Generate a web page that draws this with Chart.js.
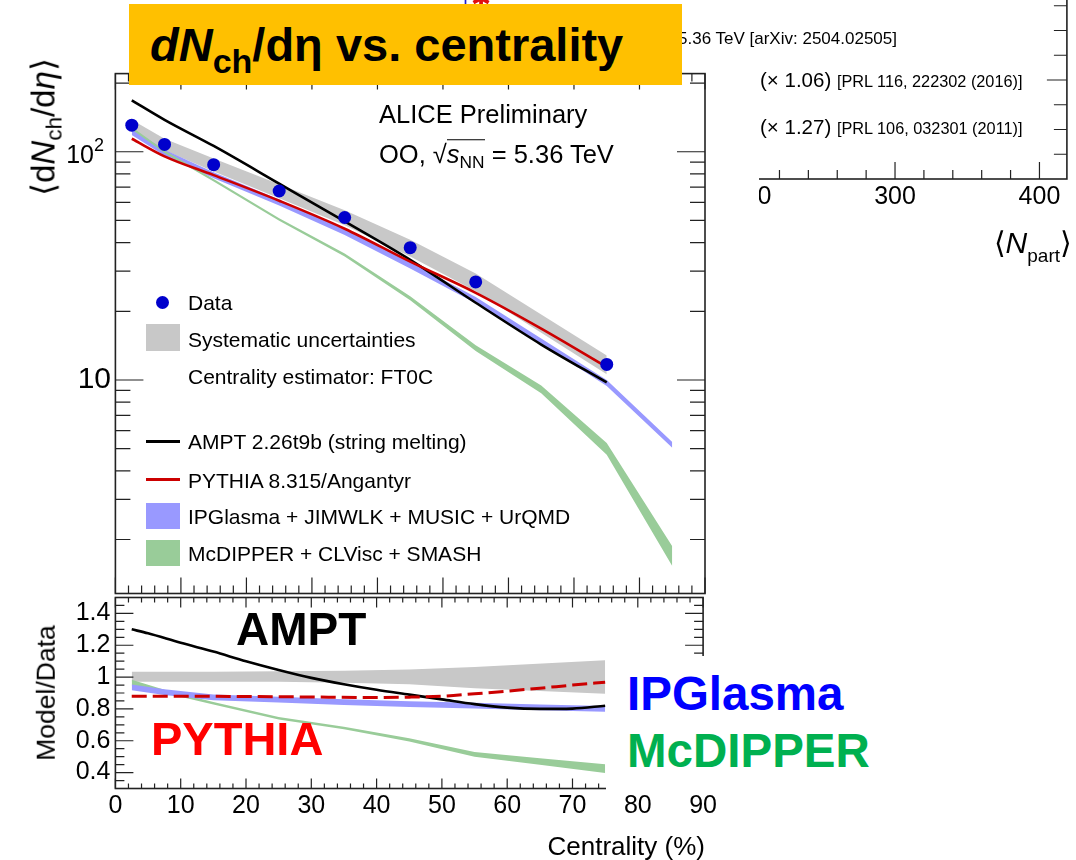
<!DOCTYPE html>
<html>
<head>
<meta charset="utf-8">
<title>dNch/deta vs centrality</title>
<script src="https://cdn.jsdelivr.net/npm/chart.js@4.4.1/dist/chart.umd.min.js"></script>
<style>
  html, body { margin: 0; padding: 0; background: #fff; }
  #page { position: relative; width: 1076px; height: 860px; overflow: hidden; font-family: 'Liberation Sans', Arial, Helvetica, sans-serif; color: #000; }
  #page canvas { position: absolute; }
  .t { position: absolute; white-space: nowrap; line-height: 1; }
  .mid { transform: translateY(-50%); }
  .rot { transform: translate(-50%, -50%) rotate(-90deg); }
  .big { font-weight: bold; }
  .key { position: absolute; }
  sub { font-size: 0.68em; vertical-align: -0.3em; line-height: 0; }
</style>
</head>
<body>
<div id="page">
  <canvas id="upper" width="720" height="600" style="left:0;top:0"></canvas>
  <canvas id="lower" width="720" height="300" style="left:0;top:560px"></canvas>

  <!-- cropped neighbour panel (N_part) -->
  <div style="position:absolute;left:759px;top:0;width:317px;height:232px;overflow:hidden">
    <canvas id="npart" width="410" height="260" style="left:-79px;top:-30px"></canvas>
  </div>
  <div class="t" style="left:463px;top:-9px;font-size:18px;color:#1a1ad0">I</div>
  <div class="t" style="left:471px;top:-13px;font-size:24px;color:#e01010">✱</div>
  <div class="t mid" style="left:678px;top:38px;font-size:17px">5.36 TeV <span style="font-size:17px">[arXiv: 2504.02505]</span></div>
  <div class="t mid" style="left:760px;top:80px;font-size:20.5px">(× 1.06) <span style="font-size:16.3px">[PRL 116, 222302 (2016)]</span></div>
  <div class="t mid" style="left:760px;top:127px;font-size:20.5px">(× 1.27) <span style="font-size:16.3px">[PRL 106, 032301 (2011)]</span></div>
  <div class="t mid" style="right:4px;top:243px;font-size:30px">⟨<i>N</i><sub style="font-size:19px;vertical-align:-9px">part</sub>⟩</div>

  <!-- title banner -->
  <div style="position:absolute;left:129px;top:4px;width:553px;height:81px;background:#FFC000;z-index:5"></div>
  <div class="t big" style="left:150px;top:21px;font-size:47px;z-index:6"><i>dN</i><sub style="font-size:34px;vertical-align:-12px">ch</sub>/dη vs. centrality</div>

  <!-- labels inside the upper pad -->
  <div class="t mid" style="left:379px;top:115px;font-size:25.5px">ALICE Preliminary</div>
  <div class="t mid" style="left:379px;top:155px;font-size:25.5px">OO, √<span style="border-top:1.5px solid #000"><i>s</i><sub>NN</sub></span> = 5.36 TeV</div>

  <div class="t rot" style="left:43px;top:127px;font-size:33px">⟨d<i>N</i><sub>ch</sub>/d<i>η</i>⟩</div>
  <div class="t rot" style="left:46px;top:693px;font-size:26.5px">Model/Data</div>
  <div class="t mid" style="right:371px;top:846px;font-size:26px">Centrality (%)</div>

  <!-- legend -->
  <div class="key" style="left:155.5px;top:295.5px;width:13px;height:13px;border-radius:50%;background:#0000CC"></div>
  <div class="key" style="left:146px;top:324px;width:34px;height:27px;background:#C8C8C8"></div>
  <div class="key" style="left:146px;top:439.5px;width:34px;height:3px;background:#000"></div>
  <div class="key" style="left:146px;top:478px;width:34px;height:3px;background:#CC0000"></div>
  <div class="key" style="left:146px;top:503px;width:34px;height:26px;background:#9999FF"></div>
  <div class="key" style="left:146px;top:540px;width:34px;height:26px;background:#99CC99"></div>
  <div class="t mid" style="left:188px;top:302px;font-size:21px">Data</div>
  <div class="t mid" style="left:188px;top:339px;font-size:21px">Systematic uncertainties</div>
  <div class="t mid" style="left:188px;top:376px;font-size:21px">Centrality estimator: FT0C</div>
  <div class="t mid" style="left:188px;top:441px;font-size:21px">AMPT 2.26t9b (string melting)</div>
  <div class="t mid" style="left:188px;top:480px;font-size:21px">PYTHIA 8.315/Angantyr</div>
  <div class="t mid" style="left:188px;top:516px;font-size:21px">IPGlasma + JIMWLK + MUSIC + UrQMD</div>
  <div class="t mid" style="left:188px;top:553px;font-size:21px">McDIPPER + CLVisc + SMASH</div>

  <!-- annotations on the ratio pad -->
  <div style="position:absolute;left:606px;top:656px;width:470px;height:135px;background:#fff;z-index:2"></div>
  <div class="t big" style="left:236px;top:606px;font-size:46px;z-index:3">AMPT</div>
  <div class="t big" style="left:151px;top:715px;font-size:47px;color:#FF0000;z-index:3">PYTHIA</div>
  <div class="t big" style="left:627px;top:670px;font-size:47.5px;color:#0000FF;z-index:3">IPGlasma</div>
  <div class="t big" style="left:627px;top:727px;font-size:47.5px;color:#00B050;z-index:3">McDIPPER</div>
</div>

<script>
// ── values ──
const centrality  = [2.5, 7.5, 15, 25, 35, 45, 55, 75];
const dNdEta      = [130.7, 107.7, 87.8, 67.3, 51.5, 38.0, 26.9, 11.7];
const sysLow      = [123.5, 101.5, 82.0, 62.5, 47.6, 34.8, 24.5, 10.6];
const sysHigh     = [138.0, 114.0, 93.5, 72.0, 55.4, 41.2, 29.3, 12.8];

const curveCent   = [2.5, 7.5, 15, 25, 35, 45, 55, 65, 75];
const ampt        = [168, 138, 106, 72.5, 49.5, 33.6, 21.8, 14.3, 9.75];
const pythia      = [114, 95.5, 79, 61, 46, 33, 24.1, 16.8, 11.4];

const modelCent   = [2.5, 7.5, 15, 25, 35, 45, 55, 65, 75, 85];
const ipgLow      = [118.3, 96.0, 76.6, 58.2, 43.2, 30.8, 21.7, 14.4, 9.40, 5.05];
const ipgHigh     = [125.7, 102.0, 81.4, 61.8, 45.8, 32.8, 23.1, 15.2, 10.0, 5.35];
const mcdLow      = [125.3, 98.8, 74.1, 49.9, 34.8, 22.35, 13.4, 8.74, 4.70, 1.53];
const mcdHigh     = [128.3, 101.2, 75.9, 51.1, 35.8, 23.25, 14.2, 9.46, 5.30, 1.87];

// ratio pad
const ratioSysLow   = [0.970, 0.970, 0.970, 0.970, 0.965, 0.955, 0.930, 0.896];
const ratioSysHigh  = [1.033, 1.033, 1.034, 1.036, 1.040, 1.047, 1.063, 1.106];
const amptRatioCent = [2.5, 5, 10, 15, 20, 25, 30, 35, 40, 45, 50, 55, 60, 65, 70, 75];
const amptRatio     = [1.30, 1.275, 1.215, 1.16, 1.10, 1.045, 0.995, 0.955, 0.92, 0.89, 0.86, 0.83, 0.808, 0.80, 0.802, 0.82];
const pythiaRatioCent = [2.5, 10, 20, 30, 40, 45, 50, 55, 60, 65, 70, 75];
const pythiaRatio   = [0.88, 0.88, 0.878, 0.875, 0.872, 0.874, 0.88, 0.895, 0.912, 0.93, 0.95, 0.968];
const ratioCent     = [2.5, 7.5, 15, 25, 35, 45, 55, 65, 75];
const ipgRatioLow   = [0.917, 0.887, 0.854, 0.840, 0.824, 0.812, 0.802, 0.792, 0.782];
const ipgRatioHigh  = [0.953, 0.923, 0.890, 0.876, 0.860, 0.848, 0.838, 0.828, 0.818];
const mcdRatioLow   = [0.947, 0.900, 0.827, 0.734, 0.672, 0.595, 0.500, 0.450, 0.397];
const mcdRatioHigh  = [0.983, 0.920, 0.843, 0.750, 0.688, 0.615, 0.530, 0.490, 0.453];

// axes
const xTickValues     = [0, 10, 20, 30, 40, 50, 60, 70, 80, 90];
const ratioTickValues = [0.4, 0.6, 0.8, 1, 1.2, 1.4];
const logTickValues   = [10, 100];
const logTickExps     = [1, 2];
const npartTickValues = [200, 300, 400];

// ── style ──
const FONT = "'Liberation Sans', Arial, sans-serif";
const C = { data: '#0000CC', red: '#CC0000', grey: '#C8C8C8', blue: '#9999FF', green: '#99CC99' };
Chart.defaults.font.family = FONT;
Chart.defaults.color = '#000';

const steps = (from, to, step) => { const out = []; for (let v = from; v <= to + 1e-9; v += step) out.push(+v.toFixed(3)); return out; };
const logMinor = [1, 10, 100].flatMap(d => [2, 3, 4, 5, 6, 7, 8, 9].map(k => k * d)).filter(v => v > 1.16 && v < 220);

const pts = (xs, ys) => xs.map((x, i) => ({ x, y: ys[i] }));
const flat = { pointRadius: 0, pointHoverRadius: 0, tension: 0 };
const edge = (xs, ys, order) => ({ data: pts(xs, ys), borderWidth: 0, fill: false, order, ...flat });
const band = (xs, ys, target, color, order) => ({ data: pts(xs, ys), borderWidth: 0, backgroundColor: color, fill: target, order, ...flat });
const curve = (xs, ys, color, order, extra = {}) => ({ data: pts(xs, ys), borderColor: color, borderWidth: 2.6, cubicInterpolationMode: 'monotone', fill: false, order, ...flat, ...extra });

// ROOT-like frame with inward tick marks, drawn from the chart scales
function rootFrame(cfg) {
  return {
    id: 'rootFrame',
    afterDatasetsDraw(chart) {
      const { ctx, chartArea: a } = chart;
      const sx = chart.scales.x, sy = chart.scales.y;
      ctx.save();
      ctx.strokeStyle = '#222';
      ctx.lineWidth = 1.2;
      ctx.beginPath();
      for (const [vals, len] of cfg.xTicks) for (const v of vals) {
        const p = sx.getPixelForValue(v);
        if (cfg.sides.includes('b')) { ctx.moveTo(p, a.bottom); ctx.lineTo(p, a.bottom - len); }
        if (cfg.sides.includes('t')) { ctx.moveTo(p, a.top); ctx.lineTo(p, a.top + len); }
      }
      for (const [vals, len] of cfg.yTicks) for (const v of vals) {
        const p = sy.getPixelForValue(v);
        if (cfg.sides.includes('l')) { ctx.moveTo(a.left, p); ctx.lineTo(a.left + len, p); }
        if (cfg.sides.includes('r')) { ctx.moveTo(a.right, p); ctx.lineTo(a.right - len, p); }
      }
      ctx.stroke();
      ctx.lineWidth = 1.6;
      ctx.strokeRect(a.left, a.top, a.right - a.left, a.bottom - a.top);
      ctx.restore();
    }
  };
}

// "10" and "10^2" labels of the log axis
const logLabels = {
  id: 'logLabels',
  afterDraw(chart) {
    const { ctx } = chart, sy = chart.scales.y;
    ctx.save();
    ctx.fillStyle = '#000';
    ctx.textBaseline = 'middle';
    logTickValues.forEach((v, i) => {
      const p = sy.getPixelForValue(v);
      if (logTickExps[i] === 1) {
        ctx.textAlign = 'right'; ctx.font = `30px ${FONT}`;
        ctx.fillText('10', 111, p);
      } else {
        ctx.textAlign = 'right'; ctx.font = `25px ${FONT}`;
        ctx.fillText('10', 94, p + 4);
        ctx.textAlign = 'left'; ctx.font = `18px ${FONT}`;
        ctx.fillText(String(logTickExps[i]), 94, p - 6);
      }
    });
    ctx.restore();
  }
};

const hidden = { grid: { display: false, drawTicks: false }, border: { display: false }, ticks: { display: false } };
const common = { responsive: false, animation: false, events: [], plugins: { legend: { display: false }, tooltip: { enabled: false } } };

// ── upper pad: dN/deta ──
new Chart(document.getElementById('upper'), {
  type: 'line',
  data: { datasets: [
    { data: pts(centrality, dNdEta), showLine: false, pointRadius: 6.5, pointHoverRadius: 6.5, pointBackgroundColor: C.data, pointBorderWidth: 0, order: 0 },
    curve(curveCent, pythia, C.red, 1),
    curve(curveCent, ampt, '#000', 2),
    band(modelCent, mcdHigh, 4, C.green, 3),
    edge(modelCent, mcdLow, 4),
    band(modelCent, ipgHigh, 6, C.blue, 5),
    edge(modelCent, ipgLow, 6),
    band(centrality, sysHigh, 8, C.grey, 7),
    edge(centrality, sysLow, 8),
  ]},
  options: {
    ...common,
    layout: { padding: { left: 0, top: 73.6, right: 15, bottom: 2.5 } },
    scales: {
      x: { type: 'linear', min: 0, max: 90, ...hidden, afterFit: s => { s.height = 0; } },
      y: { type: 'logarithmic', min: 1.16, max: 220, ...hidden, afterFit: s => { s.width = 115.4; } }
    }
  },
  plugins: [rootFrame({ sides: 'tblr', xTicks: [[xTickValues, 16], [steps(0, 90, 2), 8]], yTicks: [[logTickValues, 28], [logMinor, 15]] }), logLabels]
});

// ── lower pad: model / data ──
new Chart(document.getElementById('lower'), {
  type: 'line',
  data: { datasets: [
    curve(pythiaRatioCent, pythiaRatio, C.red, 0, { borderWidth: 3, borderDash: [15, 6] }),
    curve(amptRatioCent, amptRatio, '#000', 1),
    band(ratioCent, ipgRatioHigh, 3, C.blue, 2),
    edge(ratioCent, ipgRatioLow, 3),
    band(ratioCent, mcdRatioHigh, 5, C.green, 4),
    edge(ratioCent, mcdRatioLow, 5),
    band(centrality, ratioSysHigh, 7, C.grey, 6),
    edge(centrality, ratioSysLow, 7),
  ]},
  options: {
    ...common,
    layout: { padding: { left: 0, top: 37.5, right: 15, bottom: 0 } },
    scales: {
      x: {
        type: 'linear', min: 0, max: 90,
        afterBuildTicks: s => { s.ticks = xTickValues.map(v => ({ value: v })); },
        ticks: { font: { size: 25 }, color: '#000', padding: 3, maxRotation: 0, autoSkip: false, callback: v => String(v) },
        grid: { display: false, drawTicks: false }, border: { display: false },
        afterFit: s => { s.height = 71.5; }
      },
      y: {
        type: 'linear', min: 0.3, max: 1.5,
        afterBuildTicks: s => { s.ticks = ratioTickValues.map(v => ({ value: v })); },
        ticks: { font: { size: 25 }, color: '#000', padding: 5, autoSkip: false, callback: v => String(v) },
        grid: { display: false, drawTicks: false }, border: { display: false },
        afterFit: s => { s.width = 115.4; }
      }
    }
  },
  plugins: [rootFrame({ sides: 'tblr', xTicks: [[xTickValues, 10], [steps(0, 90, 2), 5]], yTicks: [[ratioTickValues, 18], [steps(0.3, 1.5, 0.05), 9]] })]
});

// ── cropped neighbour panel: axis only ──
new Chart(document.getElementById('npart'), {
  type: 'line',
  data: { datasets: [] },
  options: {
    ...common,
    layout: { padding: { left: 0, top: 11, right: 23.1, bottom: 0 } },
    scales: {
      x: {
        type: 'linear', min: 180, max: 419,
        afterBuildTicks: s => { s.ticks = npartTickValues.map(v => ({ value: v })); },
        ticks: { font: { size: 25 }, color: '#000', padding: 3, maxRotation: 0, autoSkip: false, callback: v => String(v) },
        grid: { display: false, drawTicks: false }, border: { display: false },
        afterFit: s => { s.height = 51; }
      },
      y: { type: 'linear', min: 0, max: 8, ...hidden, afterFit: s => { s.width = 41.7; } }
    }
  },
  plugins: [rootFrame({ sides: 'br', xTicks: [[npartTickValues, 17], [steps(180, 419, 20), 9]], yTicks: [[[4], 20], [steps(1, 8, 1), 13]] })]
});
</script>
</body>
</html>
